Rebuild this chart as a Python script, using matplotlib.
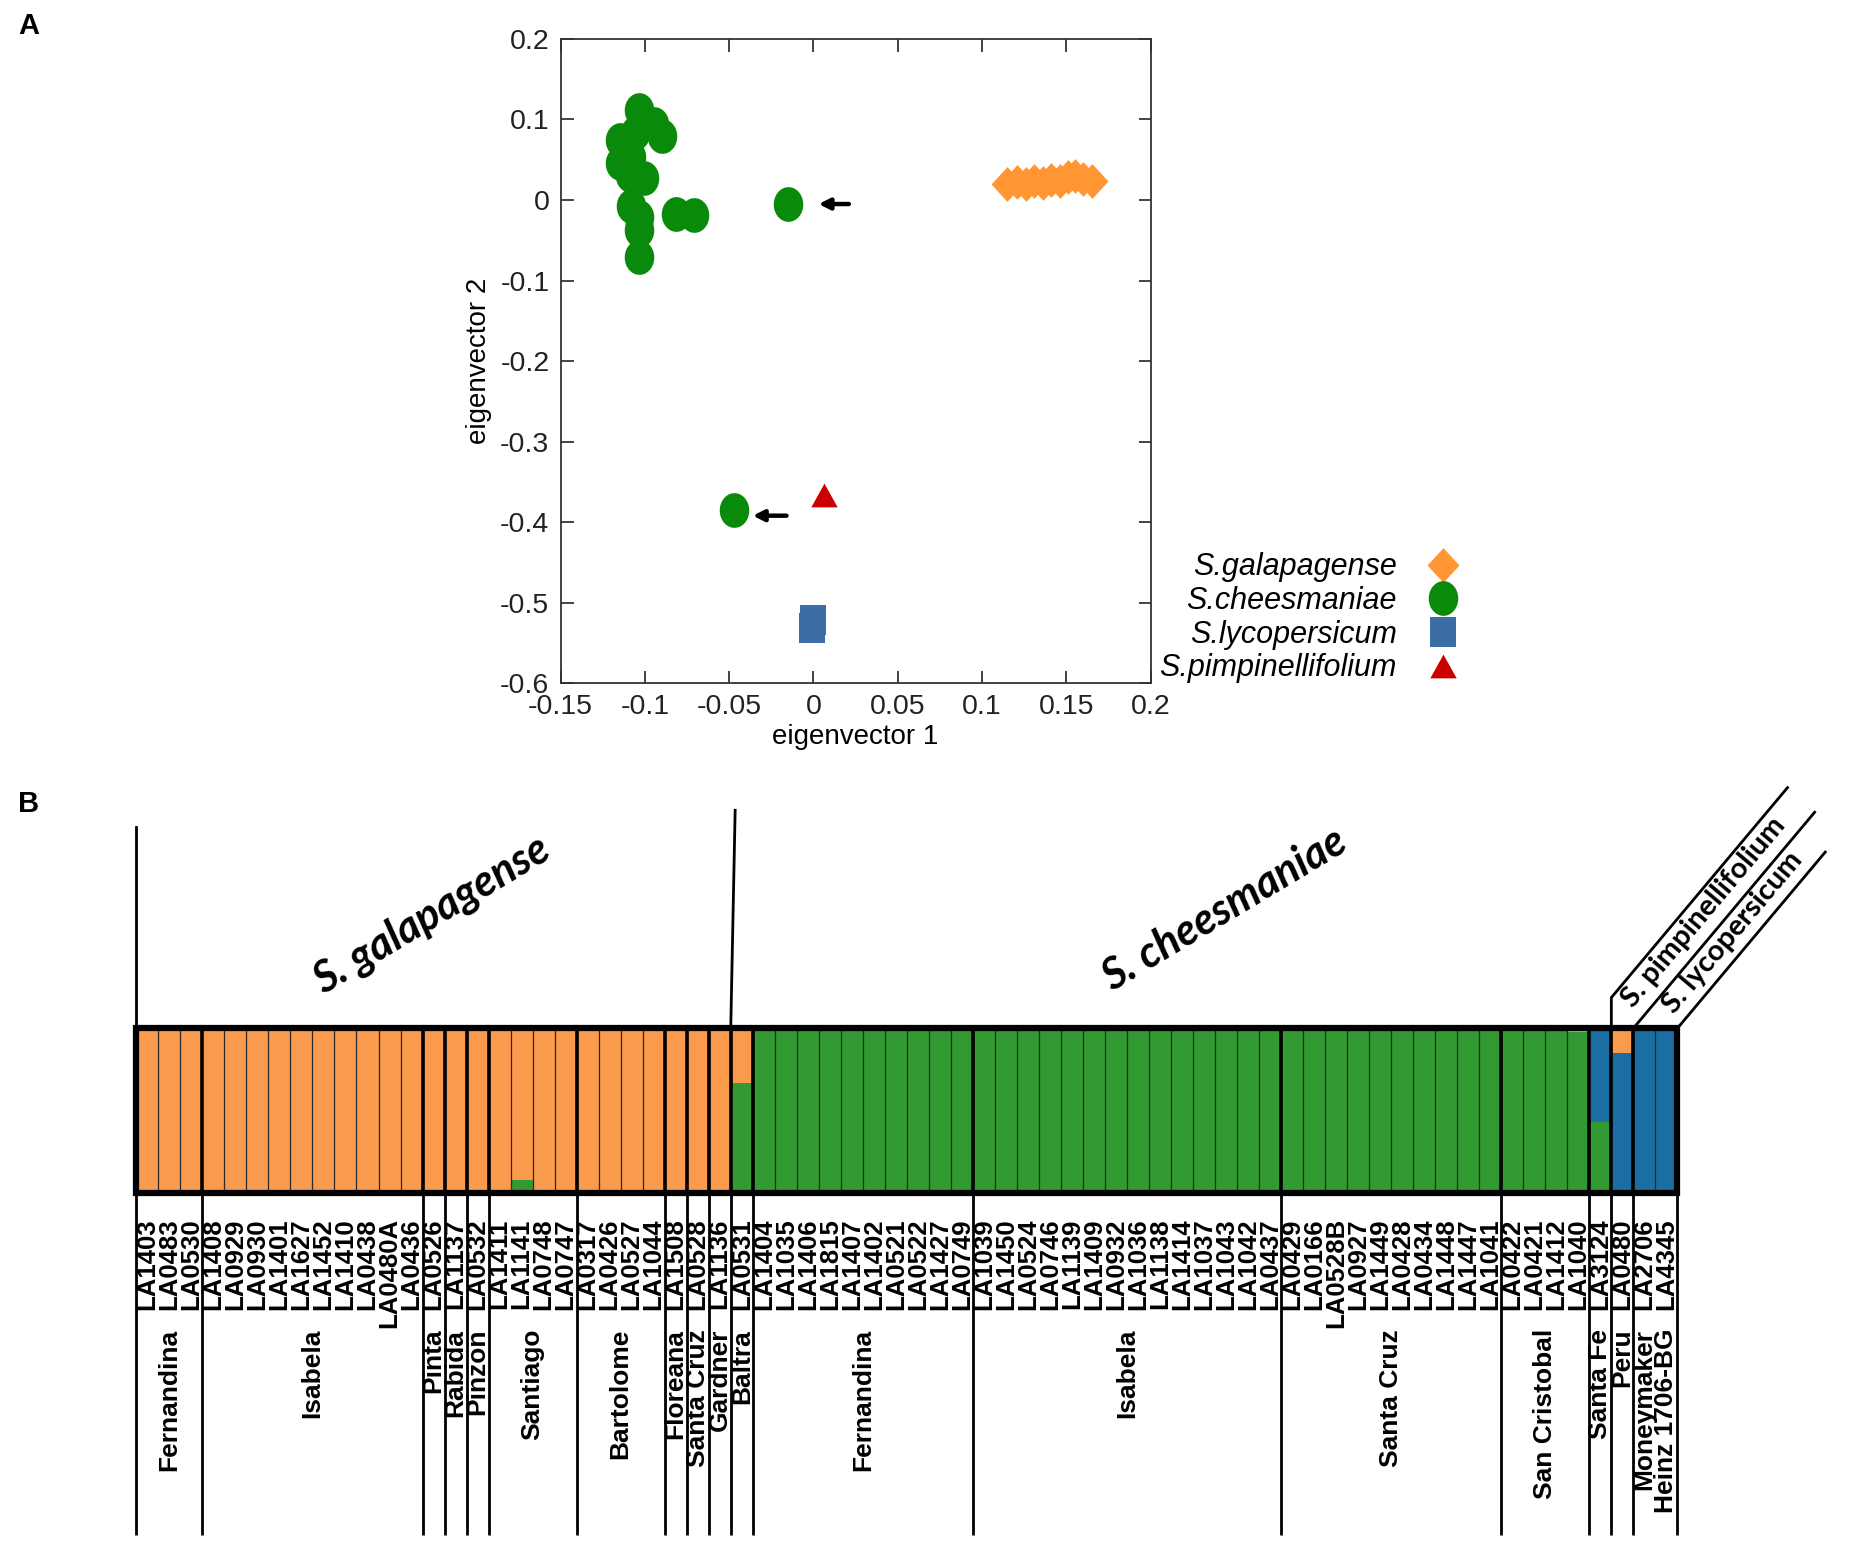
import numpy as np
import matplotlib
matplotlib.use('Agg')
import matplotlib.pyplot as plt
from matplotlib.path import Path
from matplotlib.lines import Line2D
from matplotlib.patches import Rectangle

plt.rcParams['font.family'] = ['Liberation Sans', 'DejaVu Sans']
plt.rcParams['axes.unicode_minus'] = False

# ---------------- Panel A data (PCA) ----------------
gal_x = [0.115, 0.121, 0.126, 0.131, 0.136, 0.141, 0.146, 0.151, 0.155, 0.160, 0.165]
gal_y = [0.020, 0.022, 0.020, 0.024, 0.021, 0.025, 0.023, 0.028, 0.030, 0.026, 0.024]
chee_x = [-0.1035, -0.0947, -0.0900, -0.1150, -0.1060, -0.1150, -0.1080, -0.1006, -0.1090,
          -0.1080, -0.1035, -0.1035, -0.0815, -0.0710, -0.1035, -0.0153, -0.0472]
chee_y = [0.112, 0.095, 0.079, 0.075, 0.083, 0.046, 0.054, 0.027, 0.031,
          -0.008, -0.021, -0.037, -0.017, -0.019, -0.071, -0.005, -0.385]
lyco_x = [0.000, -0.001]
lyco_y = [-0.522, -0.531]
pimp_x = [0.006]
pimp_y = [-0.366]
arrow_tips = [(0.003, -0.005), (-0.036, -0.392)]
arrow_tails = [(0.021, -0.005), (-0.016, -0.392)]

x_ticks = [-0.15, -0.1, -0.05, 0, 0.05, 0.1, 0.15, 0.2]
y_ticks = [-0.6, -0.5, -0.4, -0.3, -0.2, -0.1, 0, 0.1, 0.2]
species_names = ['S.galapagense', 'S.cheesmaniae', 'S.lycopersicum', 'S.pimpinellifolium']

# ---------------- Panel B data (admixture) ----------------
accessions = ['LA1403', 'LA0483', 'LA0530',
              'LA1408', 'LA0929', 'LA0930', 'LA1401', 'LA1627', 'LA1452', 'LA1410', 'LA0438', 'LA0480A', 'LA0436',
              'LA0526', 'LA1137', 'LA0532',
              'LA1411', 'LA1141', 'LA0748', 'LA0747',
              'LA0317', 'LA0426', 'LA0527', 'LA1044',
              'LA1508', 'LA0528', 'LA1136',
              'LA0531',
              'LA1404', 'LA1035', 'LA1406', 'LA1815', 'LA1407', 'LA1402', 'LA0521', 'LA0522', 'LA1427', 'LA0749',
              'LA1039', 'LA1450', 'LA0524', 'LA0746', 'LA1139', 'LA1409', 'LA0932', 'LA1036', 'LA1138', 'LA1414',
              'LA1037', 'LA1043', 'LA1042', 'LA0437',
              'LA0429', 'LA0166', 'LA0528B', 'LA0927', 'LA1449', 'LA0428', 'LA0434', 'LA1448', 'LA1447', 'LA1041',
              'LA0422', 'LA0421', 'LA1412', 'LA1040',
              'LA3124', 'LA0480', 'LA2706', 'LA4345']
group_names = ['Fernandina', 'Isabela', 'Pinta', 'Rabida', 'Pinzon', 'Santiago', 'Bartolome', 'Floreana',
               'Santa Cruz', 'Gardner', 'Baltra', 'Fernandina', 'Isabela', 'Santa Cruz', 'San Cristobal',
               'Santa Fe', 'Peru', 'Moneymaker', 'Heinz 1706-BG']
group_sizes = [3, 10, 1, 1, 1, 4, 4, 1, 1, 1, 1, 10, 14, 10, 4, 1, 1, 1, 1]
joined_groups = ['Moneymaker']  # no separator after this group

green = [0.005, 0.010, 0.005,
         0.010, 0.000, 0.005, 0.005, 0.000, 0.000, 0.005, 0.010, 0.010, 0.000,
         0.000, 0.000, 0.000,
         0.010, 0.080, 0.000, 0.000,
         0.005, 0.000, 0.000, 0.000,
         0.000, 0.000, 0.000,
         0.670,
         1.000, 1.000, 1.000, 1.000, 1.000, 1.000, 0.990, 1.000, 1.000, 1.000,
         1.000, 1.000, 1.000, 1.000, 1.000, 1.000, 1.000, 1.000, 1.000, 1.000, 1.000, 1.000, 1.000, 0.990,
         1.000, 0.990, 1.000, 1.000, 1.000, 1.000, 1.000, 1.000, 1.000, 1.000,
         0.990, 0.990, 1.000, 0.980,
         0.430, 0.010, 0.000, 0.000]
blue = [0.0] * 51 + [0.010] + [0.0] * 10 + [0.010, 0.010, 0.0, 0.0] + [0.570, 0.840, 1.000, 1.000]
orange = [1.0 - g - b for g, b in zip(green, blue)]

C_OR, C_GR, C_BL = '#F99A4C', '#339A33', '#1A6EA2'

fig = plt.figure(figsize=(18.5, 15.58), dpi=100)

# ---------------- Panel A ----------------
axA = fig.add_axes([0.3030, 0.5615, 0.3190, 0.4135])
t = np.linspace(0, 2 * np.pi, 64)
ellipse = Path(np.column_stack([0.85 * np.cos(t), np.sin(t)]))
diamond = Path([(0, 1), (0.92, 0), (0, -1), (-0.92, 0), (0, 1)], closed=True)
rect = Path([(-0.85, -1), (0.85, -1), (0.85, 1), (-0.85, 1), (-0.85, -1)], closed=True)
tri = Path([(0, 0.9), (1, -0.9), (-1, -0.9), (0, 0.9)], closed=True)

styles = [
    (gal_x, gal_y, diamond, 25, '#FF9633'),
    (chee_x, chee_y, ellipse, 25, '#0A8A0A'),
    (lyco_x, lyco_y, rect, 22, '#3A6EA5'),
    (pimp_x, pimp_y, tri, 19, '#CC0000'),
]
handles = []
for (xs, ys, mk, ms, col), name in zip(styles, species_names):
    axA.plot(xs, ys, linestyle='none', marker=mk, markersize=ms, color=col, markeredgewidth=0)
    handles.append(Line2D([], [], linestyle='none', marker=mk, markersize=ms, color=col,
                          markeredgewidth=0, label=name))

for tip, tail in zip(arrow_tips, arrow_tails):
    axA.annotate('', xy=tip, xytext=tail,
                 arrowprops=dict(arrowstyle='-|>', lw=3.2, color='black', mutation_scale=16,
                                 shrinkA=0, shrinkB=0))

axA.set_xlim(-0.15, 0.2)
axA.set_ylim(-0.6, 0.2)
axA.set_xticks(x_ticks)
axA.set_yticks(y_ticks)
axA.set_xticklabels([f'{v:g}' for v in x_ticks])
axA.set_yticklabels([f'{v:g}' for v in y_ticks])
axA.tick_params(direction='in', length=9, width=1.2, top=True, right=True,
                labelsize=20.5, pad=8, colors='#222222')
for sp in axA.spines.values():
    sp.set_color('#333333')
    sp.set_linewidth(1.3)
axA.set_xlabel('eigenvector 1', fontsize=20, labelpad=3)
axA.set_ylabel('eigenvector 2', fontsize=20, labelpad=6)

leg = axA.legend(handles=handles, loc='lower right', bbox_to_anchor=(0.798, 0.5515),
                 bbox_transform=fig.transFigure, frameon=False, markerfirst=False,
                 prop={'style': 'italic', 'size': 22}, labelspacing=0.12,
                 handlelength=1.2, handletextpad=0.9, borderpad=0)

fig.text(0.010, 0.992, 'A', fontsize=21, fontweight='bold', va='top', ha='left')
fig.text(0.010, 0.493, 'B', fontsize=21, fontweight='bold', va='top', ha='left')

# ---------------- Panel B ----------------
axB = fig.add_axes([0.0737, 0.2340, 0.8330, 0.1060])
n = len(accessions)
x = np.arange(n)
g = np.array(green)
b = np.array(blue)
o = np.array(orange)
axB.bar(x, g, width=1, align='edge', color=C_GR, linewidth=0)
axB.bar(x, b, width=1, bottom=g, align='edge', color=C_BL, linewidth=0)
axB.bar(x, o, width=1, bottom=g + b, align='edge', color=C_OR, linewidth=0)
axB.set_xlim(0, n)
axB.set_ylim(0, 1)
axB.axis('off')

bounds = np.concatenate([[0], np.cumsum(group_sizes)])
# thin separators between all bars
axB.vlines(x[1:], 0, 1, color='#2a2a2a', lw=0.9)
# thicker separators at group boundaries
inner = [bounds[i + 1] for i in range(len(group_sizes) - 1) if group_names[i] not in joined_groups]
axB.vlines(inner, 0, 1, color='black', lw=2.6)
axB.add_patch(Rectangle((0, 0), n, 1, fill=False, lw=4.5, edgecolor='black', clip_on=False, zorder=5))

# lines below the box
below = [0] + inner + [n]
axB.vlines(below, -2.07, 0, color='black', lw=2.0, clip_on=False)

# accession labels
for i, lab in enumerate(accessions):
    axB.text(i + 0.5, -0.15, lab, rotation=90, ha='center', va='top', fontsize=18.5,
             fontweight='bold', clip_on=False)
# island / cultivar labels
for i, name in enumerate(group_names):
    cx = (bounds[i] + bounds[i + 1]) / 2
    axB.text(cx, -0.82, name, rotation=90, ha='center', va='top', fontsize=19,
             fontweight='bold', clip_on=False)

# species brackets above the box
n_gal = 27
axB.plot([0, 0], [1, 2.22], color='black', lw=2.0, clip_on=False)
axB.plot([n_gal, n_gal + 0.2], [1, 2.32], color='black', lw=2.0, clip_on=False)
axB.text(13.4, 1.69, 'S. galapagense', rotation=31, ha='center', va='center', fontsize=31,
         fontweight='bold', style='italic', family=['Lato', 'DejaVu Sans'], clip_on=False)
axB.text(49.4, 1.72, 'S. cheesmaniae', rotation=31, ha='center', va='center', fontsize=31,
         fontweight='bold', style='italic', family=['Lato', 'DejaVu Sans'], clip_on=False)

def diag(x0, y0, length_px, angle_deg):
    p0 = axB.transData.transform((x0, y0))
    a = np.deg2rad(angle_deg)
    p1 = p0 + length_px * np.array([np.cos(a), np.sin(a)])
    return axB.transData.inverted().transform(p1)

i_peru = bounds[group_names.index('Peru')]
i_money = bounds[group_names.index('Moneymaker')]
y_knee = 1.186
e1 = diag(i_peru, y_knee, 274, 50)
e2 = diag(i_money, 1, 282, 50)
e3 = diag(n, 1, 230, 50)
axB.plot([i_peru, i_peru, e1[0]], [1, y_knee, e1[1]], color='black', lw=2.0, clip_on=False)
axB.plot([i_money, e2[0]], [1, e2[1]], color='black', lw=2.0, clip_on=False)
axB.plot([n, e3[0]], [1, e3[1]], color='black', lw=2.0, clip_on=False)
axB.text(71.2, 1.70, 'S. pimpinellifolium', rotation=50, ha='center', va='center', fontsize=21,
         fontweight='bold', family=['Lato', 'DejaVu Sans'], clip_on=False)
axB.text(72.5, 1.58, 'S. lycopersicum', rotation=50, ha='center', va='center', fontsize=21,
         fontweight='bold', family=['Lato', 'DejaVu Sans'], clip_on=False)

fig.savefig('out.png', dpi=100)
